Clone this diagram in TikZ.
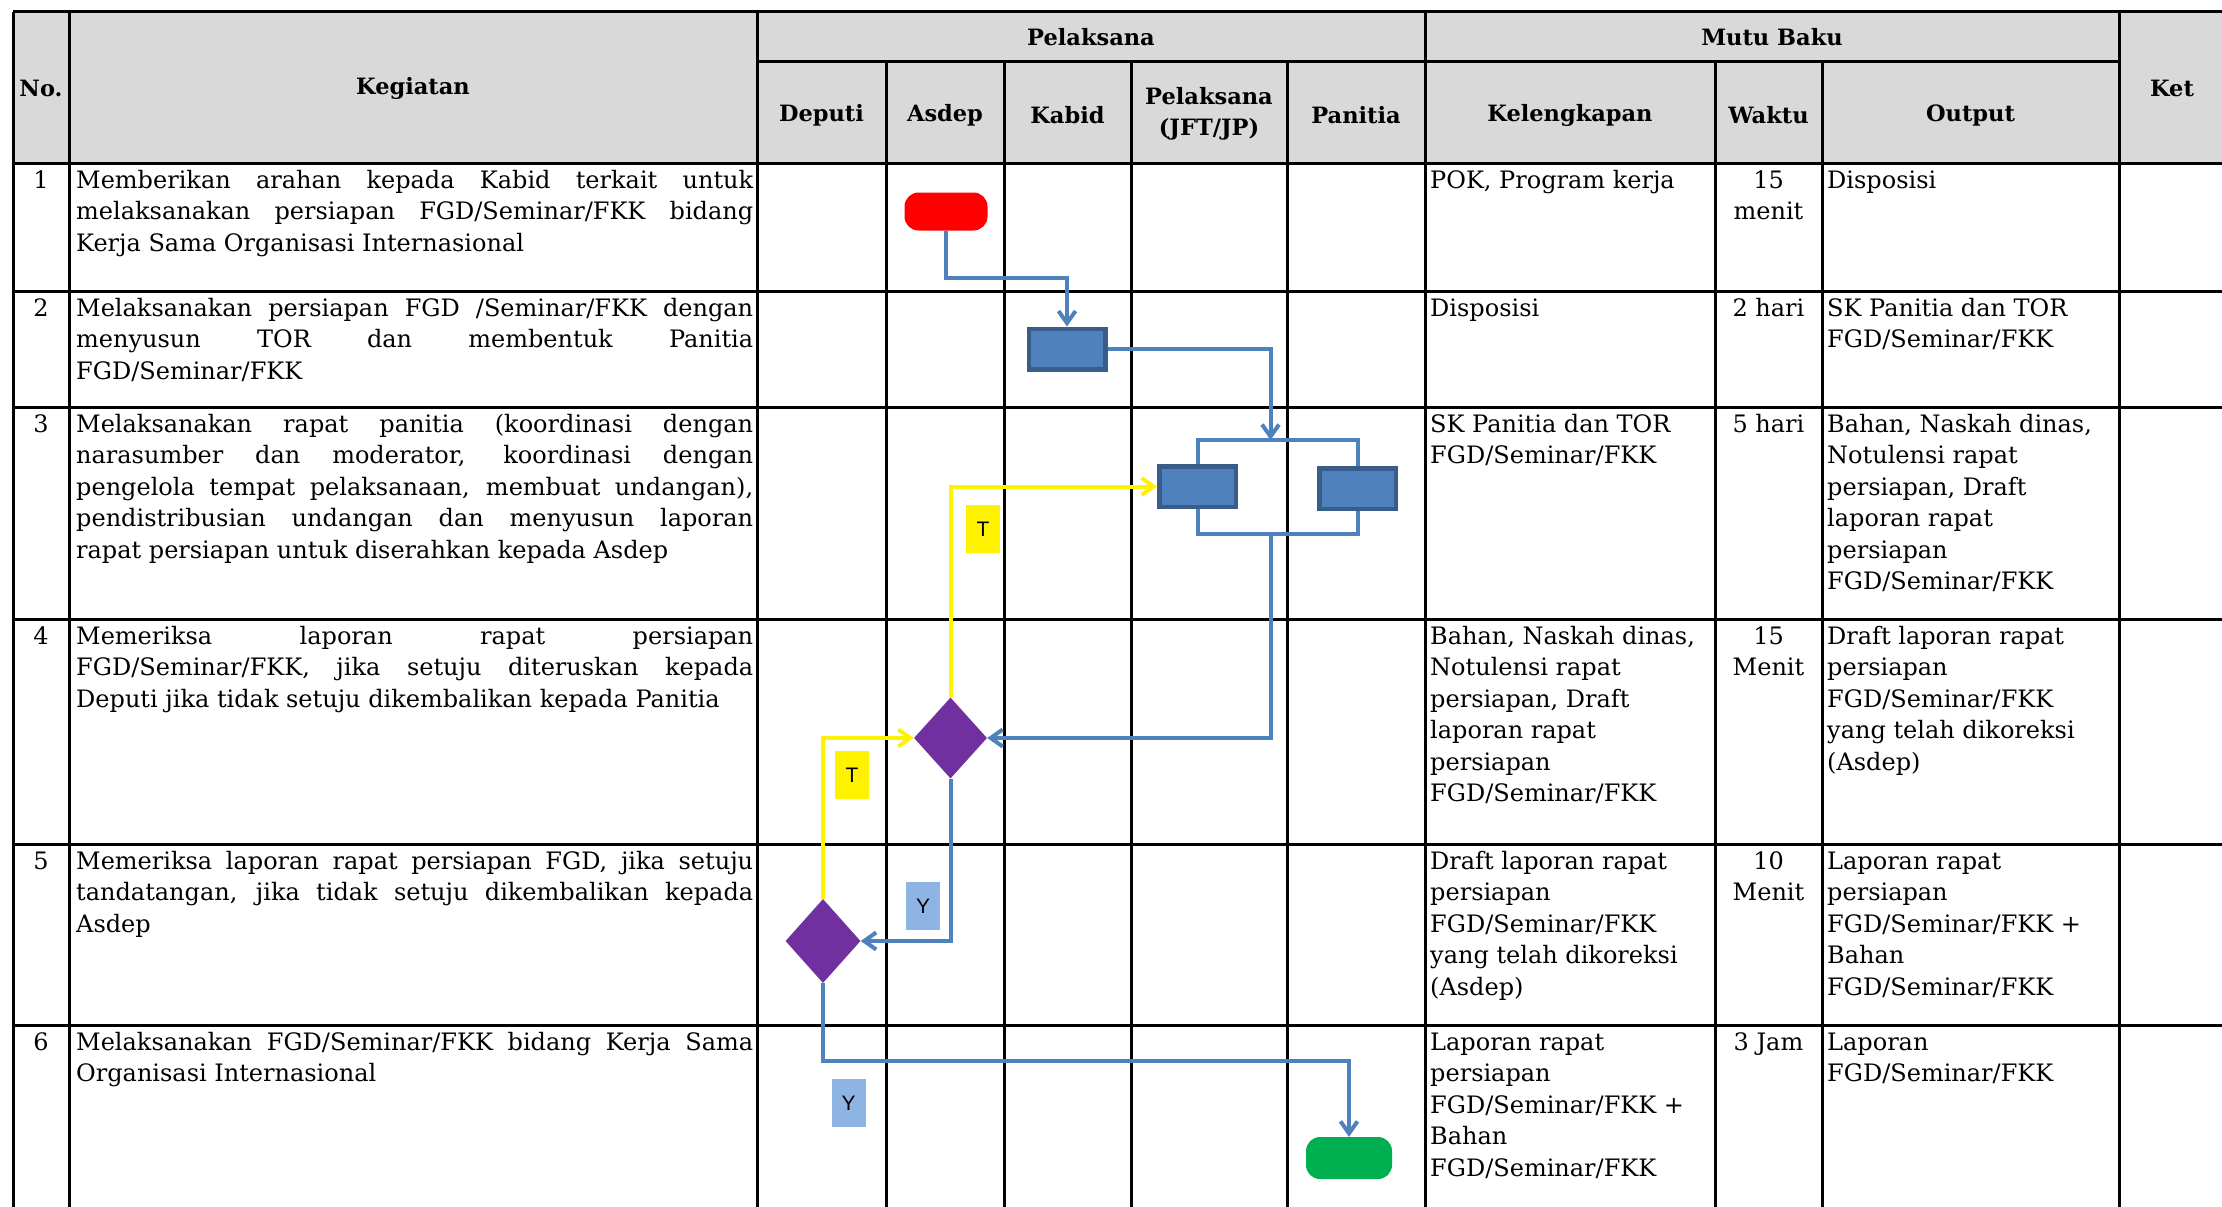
\documentclass[tikz,border=0pt]{standalone}
\usepackage{fontspec}
\setmainfont{DejaVu Serif}
\newfontfamily\labelfont{Liberation Sans}
\usetikzlibrary{shapes.geometric}
\usetikzlibrary{arrows.meta}
\usetikzlibrary{calc}

\definecolor{hdrgray}{HTML}{D9D9D9}
\definecolor{flowblue}{HTML}{4F81BD}
\definecolor{boxedge}{HTML}{385D8A}
\definecolor{decpurple}{HTML}{7030A0}
\definecolor{endgreen}{HTML}{00B050}
\definecolor{ybox}{HTML}{8DB4E2}

\newcommand{\bodyfont}{\fontsize{24}{31.5}\selectfont}
\newcommand{\headfont}{\fontsize{22.5}{31}\selectfont\bfseries}
\newcommand{\jline}[1]{\makebox[\linewidth][s]{#1}\\}
\newcommand{\kegbox}[1]{\parbox[t]{677pt}{#1}}
\newcommand{\cellbox}[1]{\parbox[t]{285pt}{\raggedright #1}}
\newcommand{\midbox}[1]{\parbox[t]{100pt}{\centering #1}}

\begin{document}
\begin{tikzpicture}[x=1pt,y=-1pt,
    grid/.style={line width=3pt},
    head/.style={inner sep=0pt, font=\headfont},
    cell/.style={inner sep=0pt, anchor=base west, font=\bodyfont},
    mid/.style={inner sep=0pt, anchor=base, font=\bodyfont},
    terminal/.style={rectangle, rounded corners=14pt, inner sep=0pt},
    task/.style={rectangle, draw=boxedge, fill=flowblue, line width=4.5pt, minimum width=76.5pt, minimum height=40.5pt, inner sep=0pt},
    decision/.style={diamond, fill=decpurple, inner sep=0pt},
    flow/.style={draw=flowblue, line width=4pt, -{Straight Barb[length=12pt,width=17pt]}},
    link/.style={draw=flowblue, line width=4pt},
    back/.style={draw=yellow, line width=4pt, -{Straight Barb[length=12pt,width=17pt]}},
    tag/.style={inner sep=0pt, minimum width=34pt, minimum height=48pt, font=\labelfont\fontsize{21}{24}\selectfont}]

    \useasboundingbox (0,0) rectangle (2222,1207);
    \clip (0,0) rectangle (2222,1207);
    \fill[white] (0,0) rectangle (2222,1207);

    % table
    \fill[hdrgray] (13,12) rectangle (2240,163);
    \draw[grid] (13,12) -- (2240,12);
    \draw[grid] (757,62) -- (2119,62);
    \foreach \y in {163,291,407,619,844,1025}
        \draw[grid] (13,\y) -- (2240,\y);
    \foreach \x in {13,69,757,1425,2119}
        \draw[grid] (\x,12) -- (\x,1230);
    \foreach \x in {886,1004,1131,1287,1715,1822}
        \draw[grid] (\x,62) -- (\x,1230);

    \node[head] (hno) at (41,88) {No.};
    \node[head] (hkeg) at (413,88) {Kegiatan};
    \node[head] (hpel) at (1091,37) {Pelaksana};
    \node[head] (hmutu) at (1772,37) {Mutu Baku};
    \node[head] (hket) at (2172,88) {Ket};
    \node[head] (hdep) at (821.5,115) {Deputi};
    \node[head] (hasd) at (945,115) {Asdep};
    \node[head] (hkab) at (1067.5,115) {Kabid};
    \node[head, align=center] (hjft) at (1209,114) {Pelaksana\\(JFT/JP)};
    \node[head] (hpan) at (1356,115) {Panitia};
    \node[head] (hkel) at (1570,115) {Kelengkapan};
    \node[head] (hwak) at (1768.5,115) {Waktu};
    \node[head] (hout) at (1970.5,115) {Output};

    % row 1
    \node[mid] (no1) at (41,188) {1};
    \node[cell] (keg1) at (76,188) {\kegbox{\jline{Memberikan arahan kepada Kabid terkait untuk}\jline{melaksanakan persiapan FGD/Seminar/FKK bidang}Kerja Sama Organisasi Internasional}};
    \node[cell] (kel1) at (1430,188) {\cellbox{POK, Program kerja}};
    \node[mid] (wak1) at (1768.5,188) {\midbox{15\\menit}};
    \node[cell] (out1) at (1827,188) {\cellbox{Disposisi}};

    % row 2
    \node[mid] (no2) at (41,316) {2};
    \node[cell] (keg2) at (76,316) {\kegbox{\jline{Melaksanakan persiapan FGD /Seminar/FKK dengan}\jline{menyusun TOR dan membentuk Panitia}FGD/Seminar/FKK}};
    \node[cell] (kel2) at (1430,316) {\cellbox{Disposisi}};
    \node[mid] (wak2) at (1768.5,316) {\midbox{2 hari}};
    \node[cell] (out2) at (1827,316) {\cellbox{SK Panitia dan TOR\\FGD/Seminar/FKK}};

    % row 3
    \node[mid] (no3) at (41,432) {3};
    \node[cell] (keg3) at (76,432) {\kegbox{\jline{Melaksanakan rapat panitia (koordinasi dengan}\jline{narasumber dan moderator, koordinasi dengan}\jline{pengelola tempat pelaksanaan, membuat undangan),}\jline{pendistribusian undangan dan menyusun laporan}rapat persiapan untuk diserahkan kepada Asdep}};
    \node[cell] (kel3) at (1430,432) {\cellbox{SK Panitia dan TOR\\FGD/Seminar/FKK}};
    \node[mid] (wak3) at (1768.5,432) {\midbox{5 hari}};
    \node[cell] (out3) at (1827,432) {\cellbox{Bahan, Naskah dinas,\\Notulensi rapat\\persiapan, Draft\\laporan rapat\\persiapan\\FGD/Seminar/FKK}};

    % row 4
    \node[mid] (no4) at (41,644) {4};
    \node[cell] (keg4) at (76,644) {\kegbox{\jline{Memeriksa laporan rapat persiapan}\jline{FGD/Seminar/FKK, jika setuju diteruskan kepada}Deputi jika tidak setuju dikembalikan kepada Panitia}};
    \node[cell] (kel4) at (1430,644) {\cellbox{Bahan, Naskah dinas,\\Notulensi rapat\\persiapan, Draft\\laporan rapat\\persiapan\\FGD/Seminar/FKK}};
    \node[mid] (wak4) at (1768.5,644) {\midbox{15\\Menit}};
    \node[cell] (out4) at (1827,644) {\cellbox{Draft laporan rapat\\persiapan\\FGD/Seminar/FKK\\yang telah dikoreksi\\(Asdep)}};

    % row 5
    \node[mid] (no5) at (41,869) {5};
    \node[cell] (keg5) at (76,869) {\kegbox{\jline{Memeriksa laporan rapat persiapan FGD, jika setuju}\jline{tandatangan, jika tidak setuju dikembalikan kepada}Asdep}};
    \node[cell] (kel5) at (1430,869) {\cellbox{Draft laporan rapat\\persiapan\\FGD/Seminar/FKK\\yang telah dikoreksi\\(Asdep)}};
    \node[mid] (wak5) at (1768.5,869) {\midbox{10\\Menit}};
    \node[cell] (out5) at (1827,869) {\cellbox{Laporan rapat\\persiapan\\FGD/Seminar/FKK +\\Bahan\\FGD/Seminar/FKK}};

    % row 6
    \node[mid] (no6) at (41,1050) {6};
    \node[cell] (keg6) at (76,1050) {\kegbox{\jline{Melaksanakan FGD/Seminar/FKK bidang Kerja Sama}Organisasi Internasional}};
    \node[cell] (kel6) at (1430,1050) {\cellbox{Laporan rapat\\persiapan\\FGD/Seminar/FKK +\\Bahan\\FGD/Seminar/FKK}};
    \node[mid] (wak6) at (1768.5,1050) {\midbox{3 Jam}};
    \node[cell] (out6) at (1827,1050) {\cellbox{Laporan\\FGD/Seminar/FKK}};

    % flow
    \node[terminal, fill=red, minimum width=83pt, minimum height=38pt] (start) at (946,211.5) {};
    \node[task] (kabid) at (1067,349) {};
    \node[task] (jft) at (1197.5,486.5) {};
    \node[task] (panitia) at (1357.5,488.5) {};
    \node[decision, minimum width=73pt, minimum height=81pt] (asdepcek) at (950.5,738) {};
    \node[decision, minimum width=75pt, minimum height=84pt] (deputicek) at (823,941) {};
    \node[terminal, fill=endgreen, minimum width=86pt, minimum height=42pt] (finish) at (1349,1158) {};
    \coordinate (split) at (1270.5,440);
    \coordinate (merge) at (1270.5,534);

    \draw[flow] (start.south) -- ++(0,47) -| (kabid.north);
    \draw[flow] (kabid.east) -| (split);
    \draw[link] (jft.north) |- (split) -| (panitia.north);
    \draw[link] (jft.south) |- (merge) -| (panitia.south);
    \draw[flow] (merge) |- (asdepcek.east);
    \draw[back] (asdepcek.north) |- (jft.west);
    \draw[flow] (asdepcek.south) |- (deputicek.east);
    \draw[back] (deputicek.north) |- (asdepcek.west);
    \draw[flow] (deputicek.south) -- ++(0,77.5) -| (finish.north);

    \node[tag, fill=yellow] (t1) at (983,529) {T};
    \node[tag, fill=yellow] (t2) at (852,775) {T};
    \node[tag, fill=ybox] (y1) at (923,906) {Y};
    \node[tag, fill=ybox] (y2) at (848.5,1103) {Y};
\end{tikzpicture}
\end{document}
